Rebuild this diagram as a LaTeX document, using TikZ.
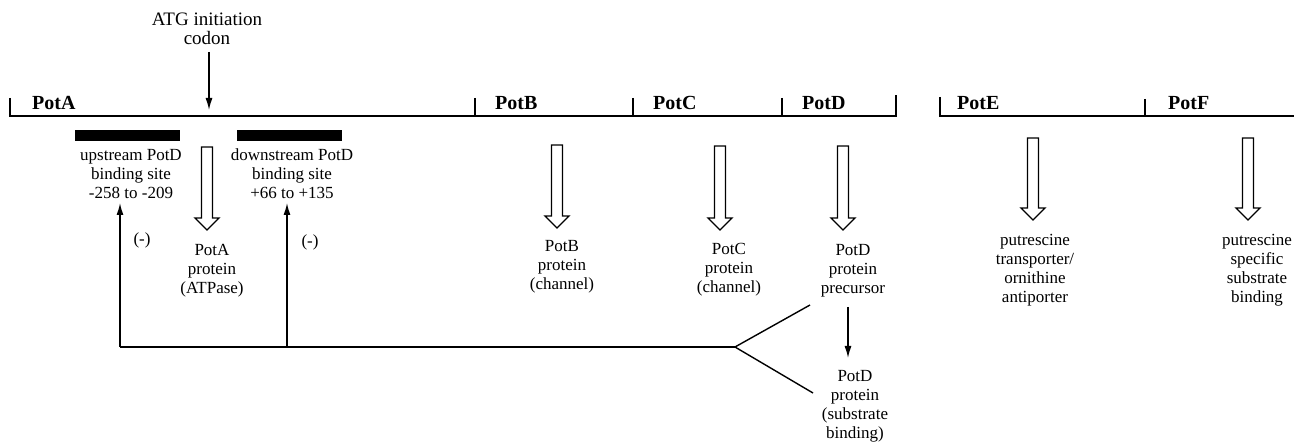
\documentclass[tikz,border=0pt]{standalone}
\usepackage{fontspec}
\setmainfont{Liberation Serif}
\usetikzlibrary{arrows.meta}
\begin{document}
\begin{tikzpicture}[x=1pt,y=-1pt,
  gene/.style={line width=2.2pt},
  txt/.style={font=\fontsize{17}{19}\selectfont, align=center, inner sep=0pt},
  bigtxt/.style={font=\fontsize{19}{19}\selectfont, align=center, inner sep=0pt},
  lbl/.style={font=\fontsize{20}{24}\selectfont\bfseries, inner sep=0pt, anchor=base west},
  thinline/.style={line width=1.4pt},
  arr/.style={thinline, -{Latex[length=12pt,width=7pt]}},
  bar/.style={fill=black, draw=none, minimum width=105pt, minimum height=11pt, inner sep=0pt},
  pics/hollow/.style={code={\draw[line width=1.3pt, line join=miter] (-5.5,0) -- (-5.5,#1-12) -- (-12,#1-12) -- (0,#1) -- (12,#1-12) -- (5.5,#1-12) -- (5.5,0) -- cycle;}}
]
\useasboundingbox (0,0) rectangle (1294,443);

% gene map, left operon
\draw[gene] (10,98) -- (10,116) -- (896,116) -- (896,95);
\draw[gene] (475,98) -- (475,116);
\draw[gene] (633,98) -- (633,116);
\draw[gene] (782,98) -- (782,116);
% right operon
\draw[gene] (940,97) -- (940,116) -- (1294,116);
\draw[gene] (1145,99) -- (1145,116);

\node[lbl] (lA) at (32,110) {PotA};
\node[lbl] (lB) at (495,110) {PotB};
\node[lbl] (lC) at (653,110) {PotC};
\node[lbl] (lD) at (802,110) {PotD};
\node[lbl] (lE) at (957,110) {PotE};
\node[lbl] (lF) at (1168,110) {PotF};

% ATG
\node[bigtxt] (atg) at (207,29) {ATG initiation\\codon};
\coordinate (atgS) at (209,52);
\coordinate (atgE) at (209,110);
\draw[arr] (atgS) -- (atgE);

% binding sites
\node[bar] (barU) at (127.5,135.5) {};
\node[bar] (barD) at (289.5,135.5) {};
\node[txt] (up) at (131,174) {upstream PotD\\binding site\\-258 to -209};
\node[txt] (down) at (292,174) {downstream PotD\\binding site\\+66 to +135};

% hollow arrows
\pic at (207,147) {hollow=83};
\pic at (557,145) {hollow=83};
\pic at (720,146) {hollow=84};
\pic at (843,146) {hollow=84};
\pic at (1033,138) {hollow=82};
\pic at (1248,138) {hollow=82};

% products
\node[txt] (pA) at (212,271) {PotA\\protein\\(ATPase)};
\node[txt] (pB) at (562,267) {PotB\\protein\\(channel)};
\node[txt] (pC) at (729,270) {PotC\\protein\\(channel)};
\node[txt] (pD) at (853,271) {PotD\\protein\\precursor};
\node[txt] (pDs) at (855,406) {PotD\\protein\\(substrate\\binding)};
\node[txt] (pE) at (1035,270) {putrescine\\transporter/\\ornithine\\antiporter};
\node[txt] (pF) at (1257,270) {putrescine\\specific\\substrate\\binding};

\node[txt] (m1) at (142,240) {(-)};
\node[txt] (m2) at (310,242) {(-)};

% feedback
\coordinate (fork) at (735,347);
\coordinate (fbL) at (120,347);
\coordinate (fbM) at (287,347);
\coordinate (tipL) at (120,203);
\coordinate (tipM) at (287,203);
\coordinate (brU) at (810,305);
\coordinate (brD) at (813,393);
\draw[thinline] (fork) -- (fbL);
\draw[arr] (fbL) -- (tipL);
\draw[arr] (fbM) -- (tipM);
\draw[thinline] (brU) -- (fork) -- (brD);
\coordinate (pcS) at (848,307);
\coordinate (pcE) at (848,358);
\draw[arr] (pcS) -- (pcE);
\end{tikzpicture}
\end{document}
